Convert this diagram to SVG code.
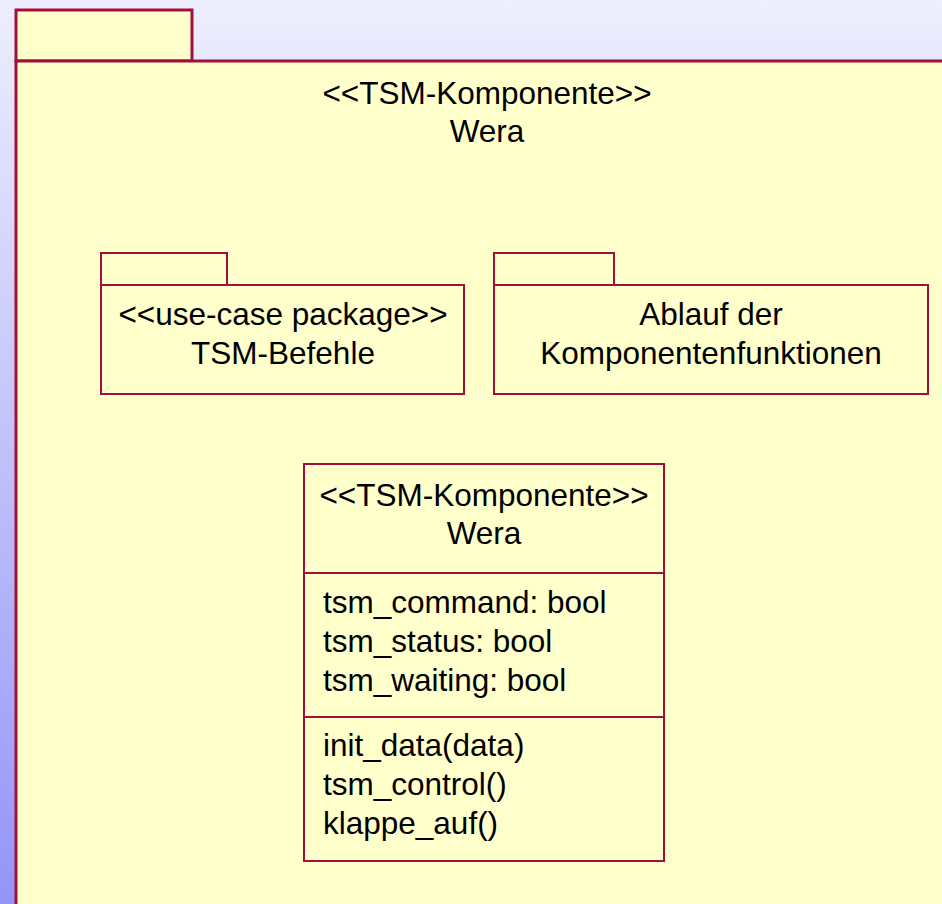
<svg xmlns="http://www.w3.org/2000/svg" width="942" height="904" viewBox="0 0 942 904">
  <defs>
    <linearGradient id="bg" x1="0" y1="0" x2="0" y2="1">
      <stop offset="0" stop-color="#eeeefd"/>
      <stop offset="1" stop-color="#9494f7"/>
    </linearGradient>
  </defs>
  <style>
    .box { fill: #ffffcc; stroke: #a0103c; stroke-width: 2; }
    .outer { fill: #ffffcc; stroke: #a0103c; stroke-width: 3; }
    .line { stroke: #a0103c; stroke-width: 2; fill: none; }
    text { font-family: "Liberation Sans", Arial, sans-serif; font-size: 31.5px; fill: #000; }
    .c { text-anchor: middle; }
  </style>
  <rect x="0" y="0" width="942" height="904" fill="url(#bg)"/>

  <g id="pkg-wera">
    <rect class="outer" x="16" y="10" width="176" height="51"/>
    <rect class="outer" x="16" y="61" width="940" height="860"/>
    <text class="c" x="487" y="104">&lt;&lt;TSM-Komponente&gt;&gt;</text>
    <text class="c" x="487" y="142">Wera</text>
  </g>

  <g id="pkg-tsm-befehle">
    <rect class="box" x="101" y="253" width="126" height="32"/>
    <rect class="box" x="101" y="285" width="363" height="109"/>
    <text class="c" x="283" y="325">&lt;&lt;use-case package&gt;&gt;</text>
    <text class="c" x="283" y="364">TSM-Befehle</text>
  </g>

  <g id="pkg-ablauf">
    <rect class="box" x="494" y="253" width="120" height="32"/>
    <rect class="box" x="494" y="285" width="434" height="109"/>
    <text class="c" x="711" y="325">Ablauf der</text>
    <text class="c" x="711" y="364">Komponentenfunktionen</text>
  </g>

  <g id="class-wera">
    <rect class="box" x="304" y="464" width="360" height="397"/>
    <line class="line" x1="304" y1="573" x2="664" y2="573"/>
    <line class="line" x1="304" y1="717" x2="664" y2="717"/>
    <text class="c" x="484" y="506">&lt;&lt;TSM-Komponente&gt;&gt;</text>
    <text class="c" x="484" y="544">Wera</text>
    <text x="323" y="613">tsm_command: bool</text>
    <text x="323" y="652">tsm_status: bool</text>
    <text x="323" y="691">tsm_waiting: bool</text>
    <text x="323" y="756">init_data(data)</text>
    <text x="323" y="795">tsm_control()</text>
    <text x="323" y="834">klappe_auf()</text>
  </g>

  <g id="connectors"></g>
</svg>
